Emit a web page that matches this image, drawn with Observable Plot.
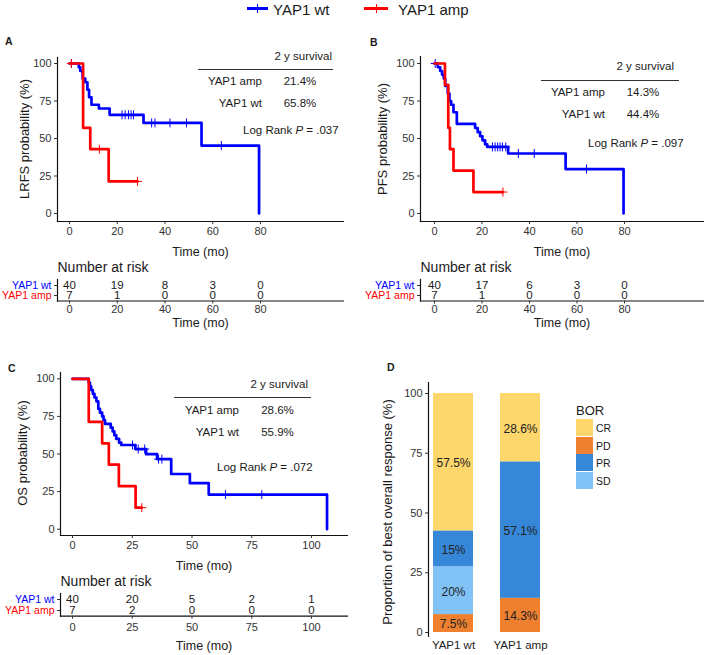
<!DOCTYPE html>
<html><head><meta charset="utf-8">
<script src="https://cdn.jsdelivr.net/npm/d3@7"></script>
<script src="https://cdn.jsdelivr.net/npm/@observablehq/plot@0.6"></script>
<style>
body{margin:0;background:#fff;font-family:"Liberation Sans",Arial,Helvetica,sans-serif;}
#root{position:relative;width:709px;height:655px;overflow:hidden;background:#fff;}
#root svg{position:absolute;left:0;top:0;}
.t{position:absolute;white-space:nowrap;line-height:1;color:#1a1a1a;}
.ln{position:absolute;}
</style></head><body><div id="root"></div>
<script>
// ---------------- data ----------------
const groups = ["YAP1 wt", "YAP1 amp"];
const groupColors = ["#0000ff", "#ff0000"];

// Panel A - LRFS
const lrfsWtT = [0, 3.9, 4.5, 5.5, 6.6, 7.5, 8.2, 9.2, 12.3, 16.8, 31, 55.3, 79.4];
const lrfsWtS = [100, 97.5, 95, 90, 87.5, 82.5, 77.5, 72.5, 70, 65.8, 60.4, 45.3, 0];
const lrfsWtCens = [0.8, 22, 23.3, 24.7, 25.8, 26.8, 34.4, 35.8, 42.1, 49, 63.6];
const lrfsAmpT = [0, 5.7, 8.7, 16.4, 28.5];
const lrfsAmpS = [100, 57.1, 42.9, 21.4, 21.4];
const lrfsAmpCens = [0.8, 12.5, 28.5];
const lrfsRiskT = [0, 20, 40, 60, 80];
const lrfsRiskWt = [40, 19, 8, 3, 0];
const lrfsRiskAmp = [7, 1, 0, 0, 0];

// Panel B - PFS
const pfsWtT = [0, 1.4, 2.4, 3.2, 3.9, 4.5, 5.6, 6.3, 7, 8, 9.4, 17.1, 18.2, 19.2, 20.2, 21.3, 22.2, 31, 55.2, 79.6];
const pfsWtS = [100, 97.5, 95, 92.5, 90, 85, 80, 75, 72.5, 67.5, 59.7, 57, 54.2, 51.5, 48.8, 46.1, 44.4, 40, 29.6, 0];
const pfsWtCens = [0.3, 24.4, 25.5, 26.6, 27.6, 28.6, 30, 35.3, 42, 64];
const pfsAmpT = [0, 4.4, 5.8, 6.5, 8, 16.4, 28.8];
const pfsAmpS = [100, 85.7, 57.1, 42.9, 28.6, 14.3, 14.3];
const pfsAmpCens = [28.8];
const pfsRiskT = [0, 20, 40, 60, 80];
const pfsRiskWt = [40, 17, 6, 3, 0];
const pfsRiskAmp = [7, 1, 0, 0, 0];

// Panel C - OS
const osWtT = [0, 6.8, 7.3, 7.8, 8.5, 9.2, 10, 10.8, 11.5, 12.4, 13, 13.6, 16, 16.8, 17.5, 18.3, 19.5, 20.4, 26.3, 30.8, 35.4, 41.3, 49.1, 57, 106.5];
const osWtS = [100, 97.5, 95, 92.5, 90, 87.5, 85, 80, 77.5, 75, 72.5, 70, 67.5, 65, 62.5, 60, 57.5, 56, 53.3, 49.9, 46.6, 36.7, 30.6, 23, 0];
const osWtCens = [25.1, 27.5, 30.2, 36, 37.4, 64, 79.2];
const osAmpT = [0, 6.8, 12.4, 15.2, 19.4, 26.4, 29];
const osAmpS = [100, 71.4, 57.1, 42.9, 28.6, 14.3, 14.3];
const osAmpCens = [29];
const osRiskT = [0, 25, 50, 75, 100];
const osRiskWt = [40, 20, 5, 2, 1];
const osRiskAmp = [7, 2, 0, 0, 0];

// Panel D - best overall response
const borGroups = ["YAP1 wt", "YAP1 amp"];
const borCats = ["CR", "PD", "PR", "SD"];
const borColors = ["#fdd66c", "#ee8030", "#3787d8", "#80c1f6"];
const borStack = ["PD", "SD", "PR", "CR"];
const borWt = [7.5, 20, 15, 57.5];
const borAmp = [14.3, 0, 57.1, 28.6];

// ---------------- helpers ----------------
const W = 709, H = 655;
const FONT = '"Liberation Sans", Arial, Helvetica, sans-serif';
const INK = "#1a1a1a";
const root = document.getElementById("root");
const style = {background: "transparent", fontFamily: FONT, fontSize: "11px", color: INK, overflow: "visible"};

function inv(v0, p0, v1, p1) { const k = (p1 - p0) / (v1 - v0); return p => v0 + (p - p0) / k; }
function stepAt(T, S, t) { let s = S[0]; for (let i = 0; i < T.length; i++) if (T[i] <= t) s = S[i]; return s; }
function curve(T, S) { return T.map((t, i) => ({t, s: S[i]})); }
function cens(T, S, C) { return C.map(t => ({t, s: stepAt(T, S, t)})); }

function kmPanel(o) {
  const fx = inv(...o.xMap), fy = inv(...o.yMap);
  const xd = [fx(o.left), fx(o.right)], yd = [fy(o.bottom), fy(o.top)];
  const marks = [
    Plot.frame({anchor: "left", stroke: "#111", strokeWidth: 1.2}),
    Plot.frame({anchor: "bottom", stroke: "#111", strokeWidth: 1.2}),
    Plot.axisX({ticks: o.xTicks, tickSize: 3, tickPadding: 3, fontSize: 11, label: null, color: "#333"}),
    Plot.axisY({ticks: [0, 25, 50, 75, 100], tickSize: 3, tickPadding: 3, fontSize: 11, label: null, color: "#333"}),
  ];
  o.series.forEach((sr, k) => {
    marks.push(Plot.line(curve(sr.T, sr.S), {x: "t", y: "s", curve: "step-after", stroke: groupColors[k], strokeWidth: 2.7}));
    marks.push(Plot.dot(cens(sr.T, sr.S, sr.C), {x: "t", y: "s", symbol: "plus", r: 3, stroke: groupColors[k], strokeWidth: 1}));
  });
  marks.push(Plot.text(["Time (mo)"], {text: d => d, frameAnchor: "bottom", lineAnchor: "middle", textAnchor: "middle", dy: 30, fontSize: 12.5, fill: INK}));
  root.appendChild(Plot.plot({
    width: W, height: H, marginLeft: o.left, marginRight: W - o.right, marginTop: o.top, marginBottom: H - o.bottom,
    x: {domain: xd}, y: {domain: yd}, style, marks
  }));
}

function riskPanel(o) {
  const fx = inv(...o.xMap);
  const xd = [fx(o.left), fx(o.right)];
  const rows = o.times.flatMap((t, i) => [{t, g: groups[0], n: o.wt[i]}, {t, g: groups[1], n: o.amp[i]}]);
  const marks = [
    Plot.frame({anchor: "left", stroke: "#111", strokeWidth: 1.2}),
    Plot.frame({anchor: "bottom", stroke: "#111", strokeWidth: 1.2}),
    Plot.axisX({ticks: o.times, tickSize: 3, tickPadding: o.tickPad, fontSize: 11, label: null, color: "#333"}),
    Plot.axisY({tickSize: 3, tickFormat: () => "", label: null, color: "#333"}),
    Plot.text(rows, {x: "t", y: "g", text: "n", fontSize: 11.5, fill: INK}),
    Plot.text([groups[0]], {x: xd[0], y: d => d, text: d => d, textAnchor: "end", dx: -6, fontSize: 10.5, fill: groupColors[0]}),
    Plot.text([groups[1]], {x: xd[0], y: d => d, text: d => d, textAnchor: "end", dx: -6, fontSize: 10.5, fill: groupColors[1]}),
    Plot.text(["Number at risk"], {text: d => d, frameAnchor: "top-left", lineAnchor: "middle", textAnchor: "start", dy: -12, fontSize: 14, fill: INK}),
    Plot.text(["Time (mo)"], {text: d => d, frameAnchor: "bottom", lineAnchor: "middle", textAnchor: "middle", dy: o.titleDy, fontSize: 12.5, fill: INK}),
  ];
  root.appendChild(Plot.plot({
    width: W, height: H, marginLeft: o.left, marginRight: W - o.right, marginTop: o.top, marginBottom: H - o.bottom,
    x: {domain: xd}, y: {type: "point", domain: groups, padding: 0.5}, style, marks
  }));
}

// ---------------- panels A, B, C ----------------
kmPanel({left: 57, right: 343, top: 57, bottom: 221, xMap: [0, 69, 80, 260], yMap: [0, 213, 100, 63],
  xTicks: lrfsRiskT,
  series: [{T: lrfsWtT, S: lrfsWtS, C: lrfsWtCens}, {T: lrfsAmpT, S: lrfsAmpS, C: lrfsAmpCens}]});
riskPanel({left: 57, right: 343, top: 279, bottom: 300.5, xMap: [0, 69, 80, 260], times: lrfsRiskT,
  wt: lrfsRiskWt, amp: lrfsRiskAmp, tickPad: 1, titleDy: 22});

kmPanel({left: 420, right: 703, top: 56, bottom: 221, xMap: [0, 434, 80, 624], yMap: [0, 213, 100, 63],
  xTicks: pfsRiskT,
  series: [{T: pfsWtT, S: pfsWtS, C: pfsWtCens}, {T: pfsAmpT, S: pfsAmpS, C: pfsAmpCens}]});
riskPanel({left: 420, right: 703, top: 279, bottom: 300.5, xMap: [0, 434, 80, 624], times: pfsRiskT,
  wt: pfsRiskWt, amp: pfsRiskAmp, tickPad: 1, titleDy: 22});

kmPanel({left: 60, right: 347, top: 372, bottom: 535, xMap: [0, 72, 100, 311], yMap: [0, 528.7, 100, 378.3],
  xTicks: osRiskT,
  series: [{T: osWtT, S: osWtS, C: osWtCens}, {T: osAmpT, S: osAmpS, C: osAmpCens}]});
riskPanel({left: 60, right: 347, top: 593, bottom: 615.7, xMap: [0, 72, 100, 311], times: osRiskT,
  wt: osRiskWt, amp: osRiskAmp, tickPad: 4, titleDy: 30});

// ---------------- panel D ----------------
(function () {
  const left = 428, right = 546, top = 382, bottom = 636;
  const fy = inv(0, 632, 100, 393);
  const bars = [];
  borStack.forEach((c, i) => { if (borWt[i] > 0) bars.push({g: borGroups[0], cat: c, v: borWt[i]}); });
  borStack.forEach((c, i) => { if (borAmp[i] > 0) bars.push({g: borGroups[1], cat: c, v: borAmp[i]}); });
  root.appendChild(Plot.plot({
    width: W, height: H, marginLeft: left, marginRight: W - right, marginTop: top, marginBottom: H - bottom,
    x: {type: "band", domain: borGroups, paddingInner: 0.4, paddingOuter: 0.074},
    y: {domain: [fy(bottom), fy(top)]},
    color: {domain: borCats, range: borColors},
    style,
    marks: [
      Plot.barY(bars, {x: "g", y: "v", fill: "cat"}),
      Plot.text(bars, Plot.stackY({x: "g", y: "v", text: d => d.v + "%", fontSize: 12, fill: "#222", dy: 1})),
      Plot.frame({anchor: "left", stroke: "#111", strokeWidth: 1.2}),
      Plot.axisY({ticks: [0, 25, 50, 75, 100], tickSize: 3, tickPadding: 3, fontSize: 11, label: null, color: "#333"}),
      Plot.axisX({tickSize: 0, tickPadding: 4, fontSize: 11.5, label: null, color: "#222"})
    ]
  }));
})();

// ---------------- HTML annotations ----------------
function label(txt, x, y, {anchor = "start", size = 11.5, color = INK, weight = 400, html = false, rotate = 0} = {}) {
  const d = document.createElement("div");
  d.className = "t";
  d.style.fontSize = size + "px"; d.style.color = color; d.style.fontWeight = weight;
  d.style.left = x + "px"; d.style.top = y + "px";
  const tx = anchor === "middle" ? "-50%" : anchor === "end" ? "-100%" : "0";
  d.style.transformOrigin = "0 0";
  d.style.transform = rotate ? `rotate(${rotate}deg) translate(${tx},-50%)` : `translate(${tx},-50%)`;
  if (html) d.innerHTML = txt; else d.textContent = txt;
  root.appendChild(d);
}
function box(x, y, w, h, color) {
  const d = document.createElement("div");
  d.className = "ln";
  Object.assign(d.style, {left: x + "px", top: y + "px", width: w + "px", height: h + "px", background: color});
  root.appendChild(d);
}

// axis titles (rotated)
label("LRFS probability (%)", 24, 139, {anchor: "middle", size: 13, rotate: -90});
label("PFS probability (%)", 382, 139, {anchor: "middle", size: 13, rotate: -90});
label("OS probability (%)", 22, 453, {anchor: "middle", size: 13, rotate: -90});
label("Proportion of best overall response (%)", 387, 512, {anchor: "middle", size: 13, rotate: -90});

// top legend
box(247, 7, 21, 3, groupColors[0]); box(257, 4, 1.2, 9, groupColors[0]);
label(groups[0], 273, 8.5, {size: 15});
box(364, 7, 24, 3, groupColors[1]); box(376, 4, 1.2, 9, groupColors[1]);
label(groups[1], 398, 8.5, {size: 15});

// panel letters
label("A", 5, 41, {size: 10.5, weight: 700});
label("B", 370, 42, {size: 10.5, weight: 700});
label("C", 8, 368, {size: 10.5, weight: 700});
label("D", 387, 367, {size: 10.5, weight: 700});

// inset tables
const insetA = {surv: ["21.4%", "65.8%"], p: ".037"};
const insetB = {surv: ["14.3%", "44.4%"], p: ".097"};
const insetC = {surv: ["28.6%", "55.9%"], p: ".072"};
function inset(o, d) {
  label("2 y survival", o.titleR, o.y0, {anchor: "end"});
  box(o.lineL, o.lineY, o.lineW, 1, "#333");
  label("YAP1 amp", o.nameR, o.y1, {anchor: "end"});
  label(d.surv[0], o.valC, o.y1, {anchor: "middle"});
  label("YAP1 wt", o.nameR, o.y2, {anchor: "end"});
  label(d.surv[1], o.valC, o.y2, {anchor: "middle"});
  label("Log Rank <i>P</i> = " + d.p, o.pL, o.py, {html: true});
}
inset({titleR: 332, y0: 57, lineL: 198, lineY: 69, lineW: 135, nameR: 262, y1: 82, y2: 104, valC: 300, pL: 243, py: 131}, insetA);
inset({titleR: 674, y0: 67, lineL: 541, lineY: 80, lineW: 138, nameR: 605, y1: 93, y2: 115, valC: 643, pL: 588, py: 144}, insetB);
inset({titleR: 308, y0: 385, lineL: 174, lineY: 397, lineW: 137, nameR: 239, y1: 411, y2: 433, valC: 277.5, pL: 217, py: 468}, insetC);

// D legend
label("BOR", 576, 410, {size: 13});
borCats.forEach((c, i) => {
  box(576, 419 + i * 17.6, 17, 17, borColors[i]);
  label(c, 596, 428 + i * 17.6, {size: 10.5});
});
</script></body></html>
